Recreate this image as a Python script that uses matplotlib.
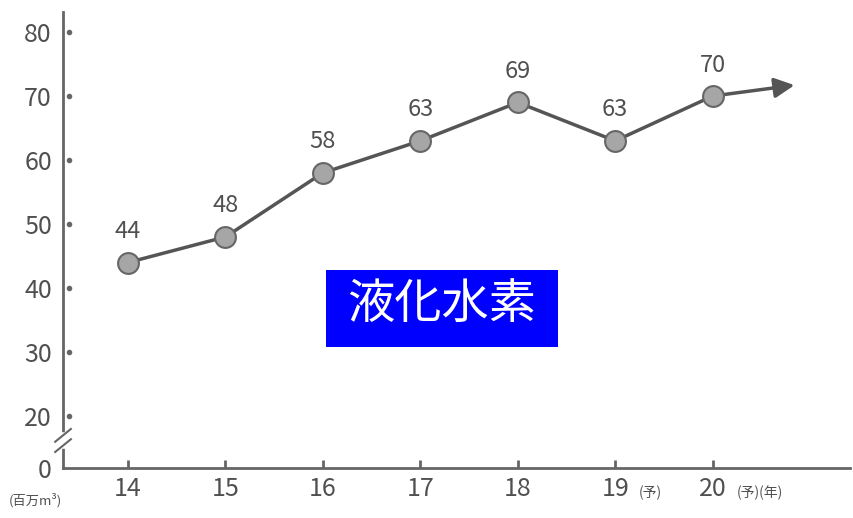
import numpy as np
import matplotlib.pyplot as plt
import matplotlib.transforms as mtransforms

plt.rcParams['font.family'] = ['Noto Sans CJK JP', 'DejaVu Sans']

# data
years = [14, 15, 16, 17, 18, 19, 20]
year_labels = ['14', '15', '16', '17', '18', '19', '20']
year_suffix = ['', '', '', '', '', '(予)', '(予)(年)']
values = [44, 48, 58, 63, 69, 63, 70]
yticks = [20, 30, 40, 50, 60, 70, 80]
arrow_end = (20.84, 71.7)
title = '液化水素'

fig = plt.figure(figsize=(8.54, 5.18), dpi=100)
ax = fig.add_axes([0.0738, 0.0965, 0.921, 0.880])
ax.set_xlim(13.333, 21.405)
ax.set_ylim(11.9, 83.1)

axis_c = '#666666'
text_c = '#505050'
for s in ['top', 'right']:
    ax.spines[s].set_visible(False)
ax.spines['left'].set_color(axis_c)
ax.spines['bottom'].set_color(axis_c)
ax.spines['left'].set_linewidth(2)
ax.spines['bottom'].set_linewidth(2)

# x ticks pointing up
ax.set_xticks(years)
ax.set_xticklabels(year_labels, fontsize=18, color=text_c)
ax.tick_params(axis='x', direction='in', length=6, width=2, color=axis_c, pad=6)

# y ticks as small dots inside the axis
ax.set_yticks(yticks + [11.9])
ax.set_yticklabels([str(t) for t in yticks] + ['0'], fontsize=18, color=text_c)
ax.tick_params(axis='y', length=0, pad=8)
trans = mtransforms.blended_transform_factory(ax.transAxes, ax.transData)
ax.plot([0.008] * len(yticks), yticks, 'o', ms=3, color=axis_c, transform=trans, clip_on=False)

# axis break mark
ax.plot([0, 0], [15.4, 17.0], color='white', lw=4, transform=trans, clip_on=False, zorder=4)
for dy in [-0.8, 0.8]:
    ax.plot([-0.010, 0.010], [16.2 + dy - 1.0, 16.2 + dy + 1.0], color=axis_c, lw=1.5,
            transform=trans, clip_on=False, zorder=5)

# suffix labels
for x, suf in zip(years, year_suffix):
    if suf:
        ax.annotate(suf, xy=(x, 11.9), xycoords='data', xytext=(17, -18),
                    textcoords='offset points', fontsize=10, color=text_c, ha='left', va='center',
                    annotation_clip=False)
ax.annotate('(百万m³)', xy=(0, 11.9), xycoords=('axes fraction', 'data'), xytext=(-20, -23),
            textcoords='offset points', fontsize=9.5, color=text_c, ha='center', va='center',
            annotation_clip=False)

# line, arrow and markers
ax.plot(years, values, color='#555555', lw=2.5, zorder=2)
ax.annotate('', xy=arrow_end, xytext=(years[-1], values[-1]),
            arrowprops=dict(arrowstyle='-|>', color='#555555', lw=2.5, mutation_scale=30,
                            shrinkA=0, shrinkB=0), zorder=2)
ax.plot(years, values, 'o', ms=15, mfc='#a6a6a6', mec='#666666', mew=1.5, zorder=3)

for x, v in zip(years, values):
    ax.annotate(str(v), xy=(x, v), xytext=(0, 14), textcoords='offset points',
                ha='center', va='bottom', fontsize=17, color=text_c)

# blue label box
fig.patches.append(plt.Rectangle((326 / 854, 1 - 347 / 518), 232 / 854, 77 / 518,
                                 transform=fig.transFigure, figure=fig,
                                 facecolor='#0000ff', edgecolor='none', zorder=5))
fig.text(442 / 854, 1 - 305 / 518, title, fontsize=34, color='white',
         ha='center', va='center', zorder=6)

fig.savefig('out.png', dpi=100)
